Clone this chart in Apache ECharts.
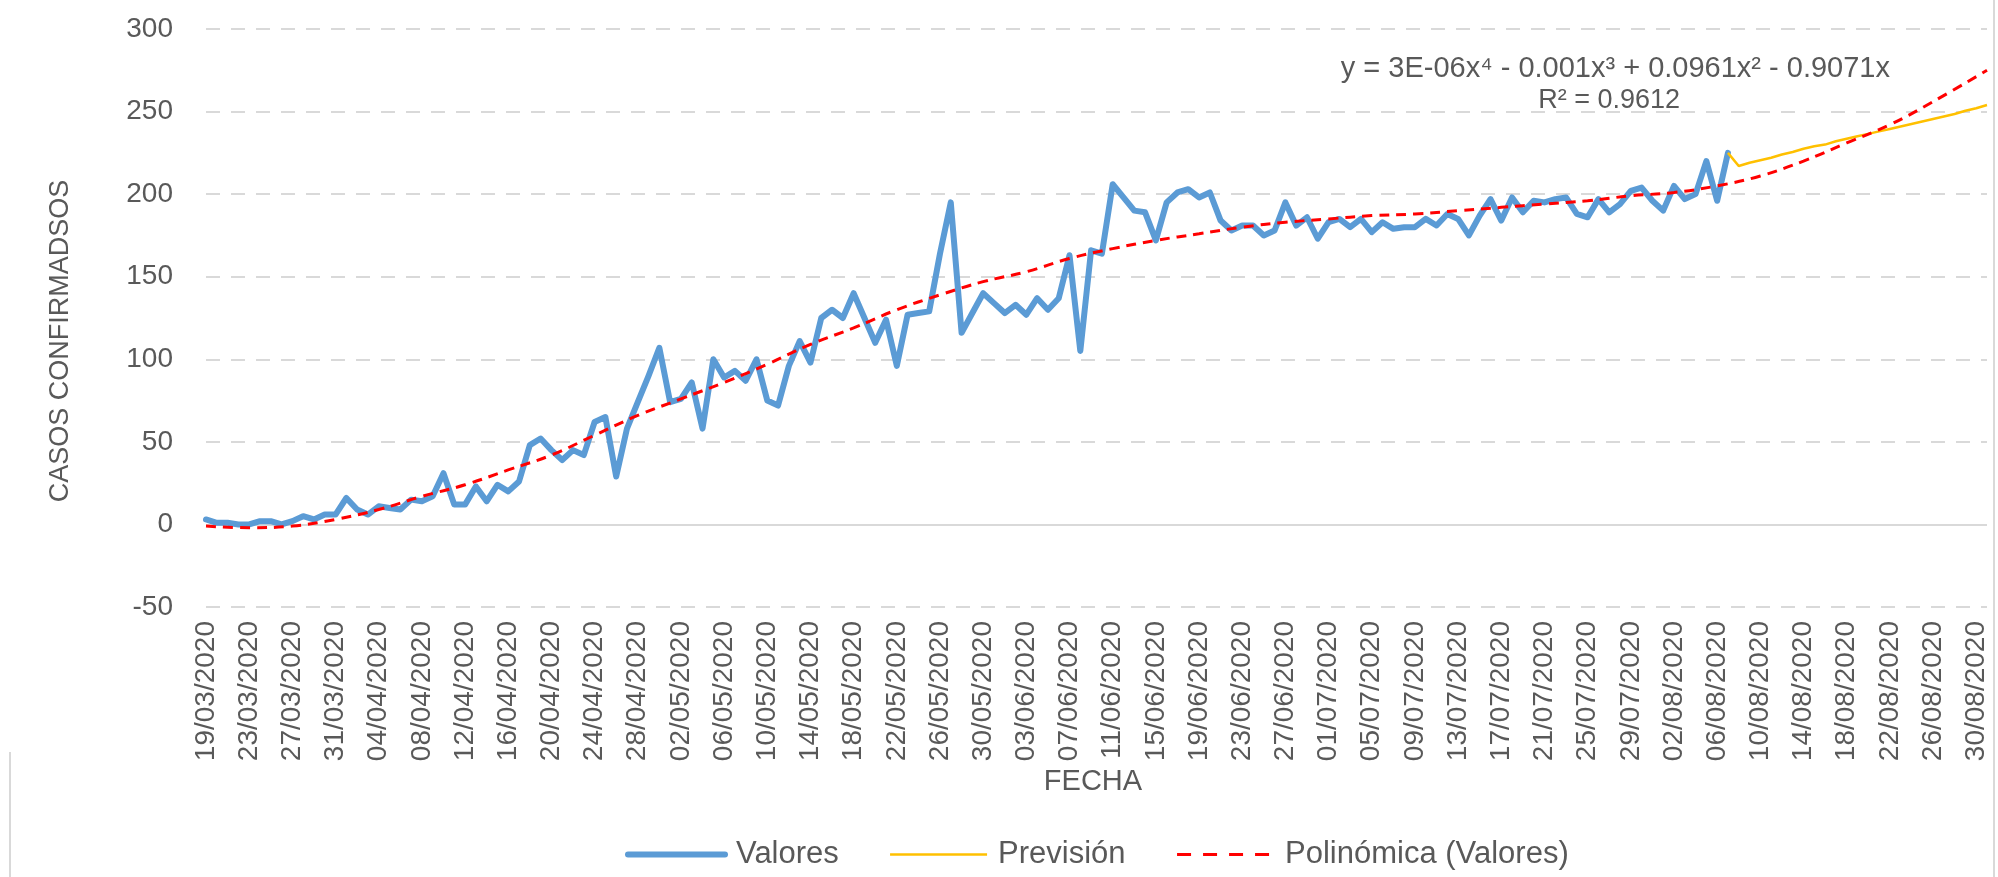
<!DOCTYPE html>
<html>
<head>
<meta charset="utf-8">
<title>Casos confirmados</title>
<script src="https://cdn.jsdelivr.net/npm/echarts@6.0.0/dist/echarts.min.js"></script>
<style>
  html, body { margin: 0; padding: 0; background: #fff; }
  #chart { width: 1998px; height: 877px; }
</style>
</head>
<body>
<div id="chart"></div>
<script>
// fechas: 19/03/2020 .. 31/08/2020, un dia por categoria
function buildDates (start, count) {
    const out = []
    const d = new Date(start + 'T12:00:00')
    for (let i = 0; i < count; i++) {
        const dd = String(d.getDate()).padStart(2, '0')
        const mm = String(d.getMonth() + 1).padStart(2, '0')
        out.push(dd + '/' + mm + '/' + d.getFullYear())
        d.setDate(d.getDate() + 1)
    }
    return out
}
const fechas = buildDates('2020-03-19', 166)

// casos diarios (19/03 - 07/08)
const valores = [
    3, 1, 1, 0, 0, 2, 2, 0, 2, 5,
    3, 6, 6, 16, 9, 6, 11, 10, 9, 15,
    14, 17, 31, 12, 12, 23, 14, 24, 20, 26,
    48, 52, 45, 39, 45, 42, 62, 65, 29, 58,
    74, 90, 107, 74, 76, 86, 58, 100, 89, 93,
    87, 100, 75, 72, 96, 111, 98, 125, 130, 125,
    140, 125, 110, 124, 96, 127, 128, 129, 164, 195,
    116, 128, 140, 134, 128, 133, 127, 137, 130, 137,
    163, 105, 166, 164, 206, 198, 190, 189, 172, 195,
    201, 203, 198, 201, 184, 178, 181, 181, 175, 178,
    195, 181, 186, 173, 183, 185, 180, 185, 177, 183,
    179, 180, 180, 185, 181, 188, 185, 175, 187, 197,
    184, 198, 189, 196, 195, 197, 198, 188, 186, 197,
    189, 194, 202, 204, 196, 190, 205, 197, 200, 220,
    196, 225
]

// prevision (07/08 - 31/08)
const prevInicio = 141
const prevision = [
    225, 217, 219, 220.5, 222, 224, 225.5, 227.5, 229, 230,
    232, 233.5, 235, 236.5, 238, 239.5, 241, 242.5, 244, 245.5,
    247, 248.5, 250.5, 252, 254
]

// linea de tendencia polinomica
const tendIdx = [0, 4, 8, 12, 16, 20, 24, 28, 32, 36, 40, 44, 48, 52, 56, 60, 64, 68, 72, 76,
    80, 84, 88, 92, 96, 100, 104, 108, 112, 116, 120, 124, 128, 132, 136, 140, 144, 148, 152, 156, 160, 165]
const tendVal = [-1, -2, -1, 3, 9, 17, 24, 33, 42, 54, 66, 76, 86, 97, 109, 119, 130, 139, 147, 153,
    161, 167, 172, 176, 180, 183, 185, 187, 188, 190, 192, 194, 196, 199, 201, 205, 211, 220, 231, 242, 256, 275]

const yTicks = { min: -50, max: 300, step: 50 }

const font = 'Liberation Sans'
const gris = '#595959'
const borde = '#d9d9d9'

const chart = echarts.init(document.getElementById('chart'))

chart.setOption({
    backgroundColor: '#fff',
    textStyle: { fontFamily: font },
    animation: false,
    grid: { left: 206, right: 11, top: 29, bottom: 270, containLabel: false },
    xAxis: {
        type: 'category',
        data: fechas,
        boundaryGap: false,
        axisLine: { show: false, onZero: false },
        axisTick: { show: false },
        axisLabel: {
            interval: 3,
            rotate: 90,
            margin: 14,
            fontSize: 28,
            color: gris,
            fontFamily: font
        },
        splitLine: { show: false }
    },
    yAxis: {
        type: 'value',
        min: yTicks.min,
        max: yTicks.max,
        interval: yTicks.step,
        axisLine: { show: false },
        axisTick: { show: false },
        axisLabel: { fontSize: 28, color: gris, margin: 33, fontFamily: font },
        splitLine: { lineStyle: { color: borde, width: 2, type: [14, 11] } }
    },
    legend: {
        left: 620,
        top: 834,
        itemWidth: 97,
        itemHeight: 18,
        itemGap: 50,
        itemStyle: { opacity: 0 },
        textStyle: { fontSize: 31, color: gris, fontFamily: font, padding: [0, 0, 0, 6] },
        data: [
            { name: 'Valores', lineStyle: { width: 6 } },
            { name: 'Previsión', lineStyle: { width: 2.5 } },
            { name: 'Polinómica (Valores)', lineStyle: { width: 3, type: [14, 12] } }
        ]
    },
    graphic: [
        {
            type: 'line',
            shape: { x1: 1994, y1: 0, x2: 1994, y2: 877 },
            style: { stroke: borde, lineWidth: 2 }
        },
        {
            type: 'line',
            shape: { x1: 10, y1: 752, x2: 10, y2: 877 },
            style: { stroke: borde, lineWidth: 2 }
        },
        {
            type: 'text',
            x: 61,
            y: 341,
            rotation: Math.PI / 2,
            style: {
                text: 'CASOS CONFIRMADSOS',
                fontSize: 27,
                fontFamily: font,
                fill: gris,
                align: 'center',
                verticalAlign: 'middle'
            }
        },
        {
            type: 'text',
            x: 1093,
            y: 782,
            style: {
                text: 'FECHA',
                fontSize: 29,
                fontFamily: font,
                fill: gris,
                align: 'center',
                verticalAlign: 'middle'
            }
        },
        {
            type: 'text',
            x: 1890,
            y: 69,
            style: {
                text: 'y = 3E-06x⁴ - 0.001x³ + 0.0961x² - 0.9071x',
                fontSize: 29,
                fontFamily: font,
                fill: gris,
                align: 'right',
                verticalAlign: 'middle'
            }
        },
        {
            type: 'text',
            x: 1680,
            y: 101,
            style: {
                text: 'R² = 0.9612',
                fontSize: 27,
                fontFamily: font,
                fill: gris,
                align: 'right',
                verticalAlign: 'middle'
            }
        }
    ],
    series: [
        {
            name: 'Valores',
            type: 'line',
            data: valores,
            symbol: 'none',
            color: '#5b9bd5',
            lineStyle: { width: 6, color: '#5b9bd5', join: 'round', cap: 'round' },
            z: 3,
            markLine: {
                silent: true,
                symbol: 'none',
                z: 1,
                label: { show: false },
                lineStyle: { color: borde, width: 2, type: 'solid' },
                data: [{ yAxis: 0 }]
            }
        },
        {
            name: 'Previsión',
            type: 'line',
            data: prevision.map((v, i) => [fechas[prevInicio + i], v]),
            symbol: 'none',
            color: '#ffc000',
            lineStyle: { width: 2.5, color: '#ffc000' },
            z: 4
        },
        {
            name: 'Polinómica (Valores)',
            type: 'line',
            data: tendIdx.map((d, i) => [fechas[d], tendVal[i]]),
            symbol: 'none',
            smooth: 0.4,
            color: '#ff0000',
            lineStyle: { width: 3, color: '#ff0000', type: [10, 7] },
            z: 5
        }
    ]
})
</script>
</body>
</html>
